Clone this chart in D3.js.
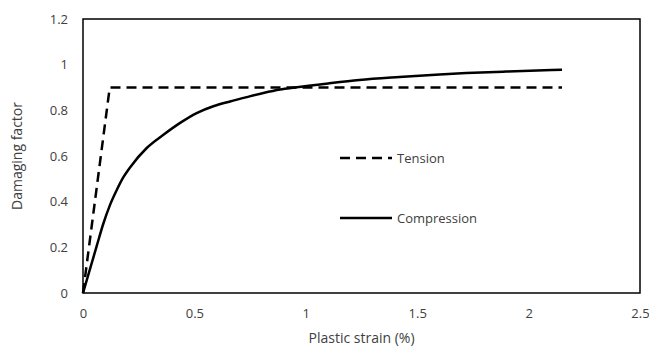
<!DOCTYPE html>
<html>
<head>
<meta charset="utf-8">
<script src="https://cdn.jsdelivr.net/npm/d3@7"></script>
<style>
  html, body { margin: 0; padding: 0; background: #fff; }
  svg text { font-family: "Open Sans", "Liberation Sans", sans-serif; fill: #404040; }
</style>
</head>
<body>
<svg id="chart" width="649" height="354"></svg>
<script>
// Damage evolution curves vs plastic strain
const tensionStrain = [0, 0.12, 2.15];
const tensionDamage = [0, 0.9, 0.9];

const compressionStrain = [0, 0.061, 0.09, 0.121, 0.151, 0.18, 0.211, 0.286, 0.361, 0.436, 0.51, 0.585, 0.66, 0.735, 0.81, 0.885, 0.95, 1.1, 1.24, 1.42, 1.6, 1.72, 1.9, 2.15];
const compressionDamage = [0, 0.204, 0.30, 0.385, 0.45, 0.505, 0.55, 0.635, 0.693, 0.745, 0.788, 0.818, 0.839, 0.858, 0.876, 0.891, 0.9, 0.918, 0.933, 0.946, 0.957, 0.963, 0.970, 0.978];

const xTicks = [0, 0.5, 1, 1.5, 2, 2.5];
const yTicks = [0, 0.2, 0.4, 0.6, 0.8, 1, 1.2];

const svg = d3.select("#chart");
const margin = { left: 83, right: 9, top: 19, bottom: 61 };
const W = 649, H = 354;

const x = d3.scaleLinear().domain([0, 2.5]).range([margin.left, W - margin.right]);
const y = d3.scaleLinear().domain([0, 1.2]).range([H - margin.bottom, margin.top]);

// Axes (labels only, no tick marks)
const xAxis = svg.append("g")
  .attr("transform", `translate(0,${H - margin.bottom})`)
  .call(d3.axisBottom(x).tickValues(xTicks).tickSize(0).tickPadding(16).tickFormat(d3.format("")));
const yAxis = svg.append("g")
  .attr("transform", `translate(${margin.left},0)`)
  .call(d3.axisLeft(y).tickValues(yTicks).tickSize(0).tickPadding(15).tickFormat(d3.format("")));
[xAxis, yAxis].forEach(g => {
  g.select(".domain").remove();
  g.selectAll("text").attr("font-size", 13).style("fill", "#404040")
    .attr("font-family", "'Open Sans', 'Liberation Sans', sans-serif");
});

// Plot frame
svg.append("rect")
  .attr("x", x(0)).attr("y", y(1.2))
  .attr("width", x(2.5) - x(0)).attr("height", y(0) - y(1.2))
  .attr("fill", "none").attr("stroke", "#000").attr("stroke-width", 1.5);

const line = d3.line().x(d => x(d[0])).y(d => y(d[1]));
const lineCurve = d3.line().x(d => x(d[0])).y(d => y(d[1])).curve(d3.curveMonotoneX);

const tension = tensionStrain.map((s, i) => [s, tensionDamage[i]]);
const compression = compressionStrain.map((s, i) => [s, compressionDamage[i]]);

svg.append("path").attr("d", line(tension))
  .attr("fill", "none").attr("stroke", "#000").attr("stroke-width", 2.5)
  .attr("stroke-dasharray", "10,6");

svg.append("path").attr("d", lineCurve(compression))
  .attr("fill", "none").attr("stroke", "#000").attr("stroke-width", 2.5);

// Legend
const legend = [
  { name: "Tension", dash: "10,6", yv: 158 },
  { name: "Compression", dash: null, yv: 218 }
];
legend.forEach(l => {
  svg.append("line")
    .attr("x1", 340).attr("x2", 392).attr("y1", l.yv).attr("y2", l.yv)
    .attr("stroke", "#000").attr("stroke-width", 2.5)
    .attr("stroke-dasharray", l.dash);
  svg.append("text").attr("x", 397).attr("y", l.yv).attr("dy", "0.35em")
    .attr("font-size", 13).text(l.name);
});

// Axis titles
svg.append("text")
  .attr("x", (x(0) + x(2.5)) / 2).attr("y", 343)
  .attr("text-anchor", "middle").attr("font-size", 14)
  .text("Plastic strain (%)");
svg.append("text")
  .attr("transform", `translate(22,${(y(0) + y(1.2)) / 2}) rotate(-90)`)
  .attr("text-anchor", "middle").attr("font-size", 14)
  .text("Damaging factor");
</script>
</body>
</html>
